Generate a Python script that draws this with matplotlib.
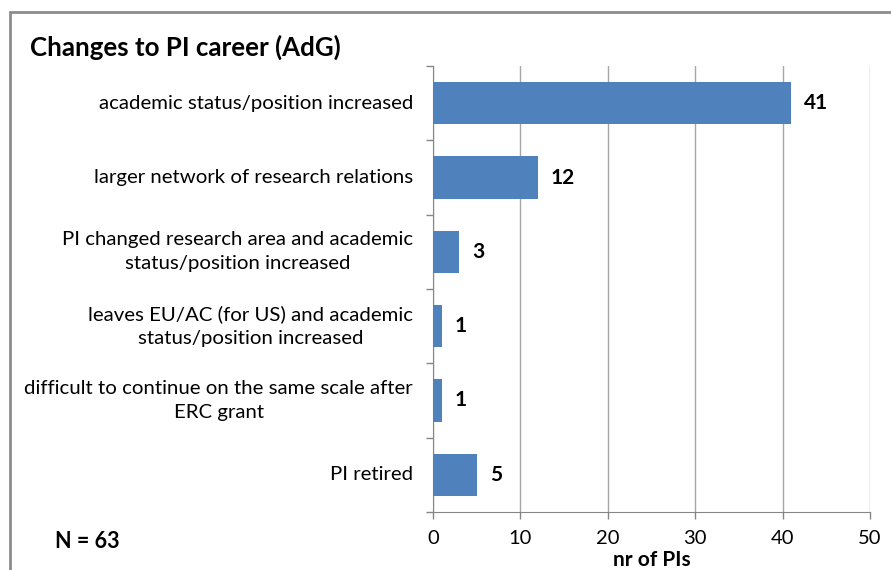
import matplotlib
matplotlib.use("Agg")
import matplotlib.pyplot as plt
from matplotlib.patches import Rectangle

categories = [
    "academic status/position increased",
    "larger network of research relations",
    "PI changed research area and academic\nstatus/position increased",
    "leaves EU/AC (for US) and academic\nstatus/position increased",
    "difficult to continue on the same scale after\nERC grant",
    "PI retired",
]
values = [41, 12, 3, 1, 1, 5]
xticks = [0, 10, 20, 30, 40, 50]

plt.rcParams['font.family'] = ['Lato', 'DejaVu Sans']
W, H = 891, 570
fig = plt.figure(figsize=(W/100, H/100), dpi=100)
ax = fig.add_axes([433/W, 1-512/H, (870-433)/W, (512-66)/H])

bar_color = "#4F81BD"
ypos = list(range(len(categories)))
ax.barh(ypos, values, height=0.57, color=bar_color, zorder=3)
ax.set_ylim(len(categories)-0.5, -0.5)
ax.set_xlim(0, 50)
ax.set_xticks(xticks)
ax.set_xticklabels([str(t) for t in xticks], fontsize=14.5)
ax.set_yticks([i - 0.5 for i in range(len(categories)+1)])
ax.set_yticklabels([])
ax.tick_params(axis='y', length=5, color="#868686", width=1)
ax.tick_params(axis='x', length=5, color="#868686", width=1, direction='out', pad=8)
ax.grid(axis='x', color="#A6A6A6", linewidth=1, zorder=0)
for s in ['top', 'right']:
    ax.spines[s].set_visible(False)
ax.spines['left'].set_color("#868686")
ax.spines['bottom'].set_color("#868686")
ax.spines['bottom'].set_zorder(4)

for i, (c, v) in enumerate(zip(categories, values)):
    ax.text(-2.3, i, c, ha='right', va='center', multialignment='center', fontsize=14.7,
            linespacing=1.5, color='black')
    ax.text(v + 1.5, i, str(v), ha='left', va='center', fontsize=15, fontweight='bold', color='black')

ax.set_xlabel("nr of PIs", fontsize=15, fontweight='bold', labelpad=2)

fig.text(30/W, 1-47/H, "Changes to PI career (AdG)", fontsize=18.6, fontweight='bold', ha='left', va='center')
fig.text(55/W, 1-541/H, "N = 63", fontsize=15.5, fontweight='bold', ha='left', va='center')

fig.patches.append(Rectangle((10/W, -0.1), 1.2, 1 - 12/H + 0.1, transform=fig.transFigure,
                             fill=False, edgecolor="#8C8C8C", linewidth=2, clip_on=False))

fig.savefig("out.png", dpi=100)
